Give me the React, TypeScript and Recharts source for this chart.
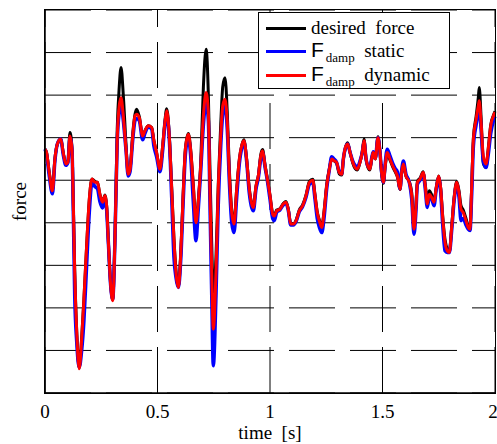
import React from "react";
import { CartesianGrid, Line, LineChart, XAxis, YAxis } from "recharts";

// time axis [s]
const time = [
  0.0, 0.007, 0.019, 0.033, 0.044, 0.055, 0.07, 0.081, 0.093, 0.102, 0.111, 0.12, 0.126, 0.132, 0.141, 0.152,
  0.163, 0.173, 0.185, 0.197, 0.209, 0.222, 0.233, 0.244, 0.256, 0.267, 0.274, 0.281, 0.292, 0.301, 0.311, 0.321,
  0.33, 0.338, 0.348, 0.36, 0.37, 0.378, 0.39, 0.4, 0.407, 0.419, 0.434, 0.444, 0.459, 0.474, 0.484, 0.496,
  0.511, 0.523, 0.533, 0.541, 0.553, 0.563, 0.573, 0.582, 0.593, 0.603, 0.615, 0.624, 0.637, 0.647, 0.659, 0.671,
  0.681, 0.692, 0.704, 0.716, 0.726, 0.733, 0.741, 0.748, 0.76, 0.77, 0.781, 0.79, 0.8, 0.81, 0.819, 0.83,
  0.84, 0.852, 0.864, 0.874, 0.884, 0.896, 0.908, 0.919, 0.926, 0.938, 0.948, 0.959, 0.967, 0.978, 0.988, 1.0,
  1.012, 1.019, 1.03, 1.044, 1.059, 1.071, 1.081, 1.092, 1.104, 1.116, 1.13, 1.145, 1.16, 1.175, 1.19, 1.2,
  1.21, 1.219, 1.23, 1.24, 1.252, 1.264, 1.274, 1.284, 1.296, 1.308, 1.319, 1.326, 1.338, 1.345, 1.356, 1.368,
  1.378, 1.388, 1.4, 1.41, 1.418, 1.427, 1.437, 1.444, 1.452, 1.459, 1.468, 1.48, 1.489, 1.496, 1.504, 1.512,
  1.521, 1.533, 1.545, 1.556, 1.566, 1.578, 1.585, 1.593, 1.604, 1.619, 1.63, 1.64, 1.649, 1.655, 1.667, 1.681,
  1.69, 1.699, 1.708, 1.719, 1.729, 1.738, 1.75, 1.759, 1.767, 1.778, 1.788, 1.797, 1.808, 1.818, 1.83, 1.84,
  1.849, 1.859, 1.871, 1.881, 1.889, 1.896, 1.904, 1.916, 1.926, 1.93, 1.938, 1.948, 1.96, 1.97, 1.981, 1.993,
  2.0,
];

const desiredForce = [
  5.73, 5.65, 5.18, 4.8, 5.5, 5.85, 5.97, 5.65, 5.38, 5.45, 6.12, 5.75, 4.4, 2.9, 1.45, 0.6,
  1.3, 2.2, 3.45, 4.55, 5.03, 4.97, 4.95, 4.67, 4.5, 4.65, 4.4, 3.62, 2.55, 2.2, 3.7, 6.2,
  7.2, 7.65, 7.0, 5.85, 5.14, 5.25, 6.1, 6.55, 6.67, 6.5, 6.05, 6.16, 6.28, 6.24, 5.93, 5.65,
  5.26, 5.81, 6.4, 6.68, 6.0, 4.85, 3.65, 2.9, 2.5, 3.25, 4.8, 5.75, 6.1, 5.75, 4.9, 4.05,
  4.5, 5.4, 7.2, 8.08, 7.0, 5.3, 3.5, 2.37, 3.2, 4.9, 6.3, 7.2, 7.41, 6.6, 5.3, 4.3,
  4.0, 4.8, 5.5, 5.81, 5.95, 5.5, 4.8, 4.45, 4.38, 4.87, 5.1, 5.6, 5.72, 5.36, 5.05, 4.65,
  4.22, 4.18, 4.3, 4.33, 4.45, 4.5, 4.33, 3.99, 3.98, 4.06, 4.3, 4.42, 4.65, 4.97, 5.02, 4.66,
  4.26, 4.07, 3.92, 4.26, 4.9, 5.28, 5.5, 5.46, 5.4, 5.15, 5.12, 5.48, 5.81, 5.88, 5.65, 5.4,
  5.28, 5.24, 5.42, 5.67, 5.97, 5.5, 5.28, 5.24, 5.5, 5.65, 5.5, 6.02, 5.65, 5.15, 4.93, 5.32,
  5.62, 5.48, 5.32, 5.2, 5.08, 4.78, 5.16, 5.36, 5.1, 4.97, 4.7, 3.9, 4.45, 4.97, 5.05, 5.2,
  4.9, 4.55, 4.75, 4.65, 4.5, 4.8, 5.1, 4.8, 4.2, 3.6, 3.38, 3.32, 3.95, 4.58, 4.97, 4.75,
  4.4, 4.3, 4.1, 3.92, 3.87, 4.8, 6.0, 6.5, 6.95, 7.18, 6.5, 5.4, 5.3, 5.75, 6.3, 6.52,
  6.62,
];

const fDampStatic = [
  5.73, 5.6, 5.1, 4.68, 5.45, 5.85, 5.97, 5.6, 5.35, 5.42, 6.0, 5.7, 4.2, 2.3, 1.2, 0.6,
  1.0, 1.7, 3.0, 4.25, 4.95, 4.85, 4.8, 4.5, 4.35, 4.55, 4.3, 3.6, 2.52, 2.2, 3.62, 5.9,
  6.6, 6.8, 6.4, 5.7, 5.1, 5.2, 5.95, 6.4, 6.45, 6.4, 5.95, 6.1, 6.25, 6.2, 5.8, 5.55,
  5.2, 5.7, 6.3, 6.55, 5.9, 4.6, 3.2, 2.72, 2.48, 3.1, 4.6, 5.6, 6.0, 5.6, 4.5, 3.58,
  4.3, 5.2, 6.3, 6.83, 6.4, 4.5, 2.3, 0.64, 2.3, 4.4, 5.8, 6.55, 6.75, 6.2, 5.0, 4.0,
  3.77, 4.6, 5.4, 5.75, 5.9, 5.45, 4.7, 4.35, 4.28, 4.8, 5.05, 5.5, 5.65, 5.3, 5.0, 4.55,
  4.1, 4.05, 4.25, 4.3, 4.42, 4.46, 4.3, 3.95, 3.95, 4.03, 4.26, 4.38, 4.6, 4.9, 4.95, 4.55,
  4.1, 3.9, 3.77, 4.1, 4.8, 5.25, 5.55, 5.5, 5.42, 5.2, 5.15, 5.5, 5.8, 5.85, 5.65, 5.45,
  5.35, 5.3, 5.45, 5.65, 5.9, 5.5, 5.32, 5.3, 5.52, 5.67, 5.52, 6.0, 5.65, 5.2, 4.95, 5.4,
  5.73, 5.58, 5.4, 5.28, 5.2, 4.8, 5.22, 5.45, 5.15, 4.95, 4.55, 3.73, 4.3, 4.9, 5.0, 5.15,
  4.8, 4.36, 4.6, 4.55, 4.4, 4.75, 5.05, 4.7, 4.0, 3.34, 3.3, 3.3, 3.85, 4.5, 4.9, 4.6,
  4.05, 4.1, 3.95, 3.85, 3.82, 4.6, 5.8, 6.3, 6.6, 6.7, 6.2, 5.45, 5.3, 5.6, 6.1, 6.4,
  6.5,
];

const fDampDynamic = [
  5.73, 5.65, 5.18, 4.75, 5.5, 5.85, 5.97, 5.65, 5.38, 5.42, 6.04, 5.73, 4.4, 2.84, 1.43, 0.57,
  1.27, 2.21, 3.46, 4.56, 5.03, 4.95, 4.95, 4.67, 4.48, 4.64, 4.4, 3.62, 2.52, 2.17, 3.62, 5.97,
  6.75, 6.94, 6.51, 5.73, 5.14, 5.25, 6.04, 6.51, 6.55, 6.47, 6.04, 6.16, 6.28, 6.24, 5.93, 5.65,
  5.26, 5.81, 6.36, 6.63, 5.97, 4.79, 3.62, 2.84, 2.48, 3.23, 4.79, 5.73, 6.08, 5.73, 4.87, 4.0,
  4.48, 5.34, 6.51, 7.06, 6.59, 4.79, 2.84, 1.5, 2.84, 4.79, 6.04, 6.75, 6.9, 6.36, 5.18, 4.24,
  3.97, 4.79, 5.5, 5.81, 5.93, 5.5, 4.79, 4.44, 4.36, 4.87, 5.1, 5.57, 5.69, 5.34, 5.03, 4.64,
  4.2, 4.16, 4.28, 4.32, 4.44, 4.48, 4.32, 3.97, 3.97, 4.05, 4.28, 4.4, 4.64, 4.95, 5.0, 4.64,
  4.24, 4.05, 3.89, 4.24, 4.87, 5.26, 5.5, 5.46, 5.42, 5.18, 5.14, 5.5, 5.81, 5.85, 5.65, 5.42,
  5.3, 5.26, 5.42, 5.65, 5.93, 5.5, 5.3, 5.26, 5.5, 5.65, 5.5, 6.0, 5.65, 5.18, 4.95, 5.34,
  5.65, 5.5, 5.34, 5.22, 5.1, 4.79, 5.18, 5.38, 5.1, 4.95, 4.64, 3.85, 4.4, 4.95, 5.03, 5.18,
  4.87, 4.44, 4.67, 4.59, 4.48, 4.79, 5.1, 4.79, 4.16, 3.54, 3.34, 3.3, 3.93, 4.56, 4.95, 4.71,
  4.32, 4.24, 4.05, 3.89, 3.85, 4.79, 5.97, 6.43, 6.75, 6.87, 6.36, 5.57, 5.38, 5.73, 6.28, 6.51,
  6.6,
];

const xTicks = [0, 0.5, 1, 1.5, 2];
const yTicks = [0, 1, 2, 3, 4, 5, 6, 7, 8, 9];

const rows = time.map((t, i) => ({
  t,
  desired: desiredForce[i],
  fStatic: fDampStatic[i],
  fDynamic: fDampDynamic[i],
}));

const serif = "Liberation Serif";
const sans = "Liberation Sans";
const frame = { stroke: "#000", strokeWidth: 1.5 };

// plot box, same as chart margins below
const box = { left: 45, top: 10, width: 450, height: 383 };

function LegendRow({ color, top, children }: { color: string; top: number; children: React.ReactNode }) {
  return (
    <div style={{ position: "absolute", left: 0, top, height: 24, width: "100%", display: "flex", alignItems: "center" }}>
      <div style={{ marginLeft: 7, width: 40, height: 3, background: color }} />
      <div style={{ marginLeft: 5, fontFamily: serif, fontSize: 19, whiteSpace: "pre", lineHeight: "24px" }}>{children}</div>
    </div>
  );
}

function Fdamp({ rest }: { rest: string }) {
  return (
    <span>
      <span style={{ fontFamily: sans, fontSize: 21 }}>F</span>
      <span style={{ fontFamily: serif, fontSize: 13, position: "relative", top: 5, marginLeft: 2 }}>damp</span>
      <span>{"  " + rest}</span>
    </span>
  );
}

function ForceLegend() {
  return (
    <div
      style={{
        position: "absolute",
        left: 258,
        top: 12,
        width: 192,
        height: 77,
        border: "1px solid #000",
        background: "#fff",
        boxSizing: "border-box",
      }}
    >
      <LegendRow color="#000" top={3}>desired  force</LegendRow>
      <LegendRow color="#0000ff" top={26}><Fdamp rest="static" /></LegendRow>
      <LegendRow color="#ff0000" top={50}><Fdamp rest="dynamic" /></LegendRow>
    </div>
  );
}

const dashedLine = (p: any) => (
  <line
    key={p.key}
    x1={p.x1}
    y1={p.y1}
    x2={p.x2}
    y2={p.y2}
    stroke="#000"
    strokeWidth={1}
    strokeDasharray="46 15"
    strokeDashoffset={29}
    fill="none"
  />
);

const TimeTick = (p: any) => (
  <text x={p.x} y={p.y} dy="0.71em" textAnchor="middle" fill="#000" fontSize={19} fontFamily={serif}>
    {p.payload.value}
  </text>
);

const TimeLabel = ({ viewBox }: any) => (
  <text
    x={viewBox.x + viewBox.width / 2}
    y={viewBox.y + viewBox.height + 16}
    textAnchor="middle"
    fill="#000"
    fontSize={19}
    fontFamily={serif}
    style={{ whiteSpace: "pre" }}
  >
    time  [s]
  </text>
);

const ForceLabel = ({ viewBox }: any) => {
  const cx = viewBox.x + 19;
  const cy = viewBox.y + viewBox.height / 2;
  return (
    <text
      x={cx}
      y={cy}
      dy="0.35em"
      transform={`rotate(-90, ${cx}, ${cy})`}
      textAnchor="middle"
      fill="#000"
      fontSize={19}
      fontFamily={serif}
    >
      force
    </text>
  );
};

export default function App() {
  return (
    <div style={{ position: "absolute", left: 0, top: 0, width: 497, height: 444, background: "#fff", fontFamily: serif }}>
      <LineChart
        width={497}
        height={444}
        data={rows}
        margin={{ top: box.top, right: 497 - box.left - box.width, left: 0, bottom: 21 }}
      >
        <CartesianGrid stroke="#000" strokeWidth={1} strokeDasharray="46 15" vertical={dashedLine} />
        <XAxis
          dataKey="t"
          type="number"
          domain={[0, 2]}
          ticks={xTicks}
          tickLine={false}
          tickMargin={6}
          axisLine={frame}
          tick={TimeTick}
          label={{ content: TimeLabel }}
        />
        <YAxis
          type="number"
          domain={[0, 9]}
          ticks={yTicks}
          width={box.left}
          tick={() => <g />}
          tickLine={false}
          axisLine={frame}
          label={{ content: ForceLabel }}
        />
        <Line type="monotone" dataKey="desired" stroke="#000000" strokeWidth={3} dot={false} isAnimationActive={false} />
        <Line type="monotone" dataKey="fStatic" stroke="#0000ff" strokeWidth={3.5} dot={false} isAnimationActive={false} />
        <Line type="monotone" dataKey="fDynamic" stroke="#ff0000" strokeWidth={3} dot={false} isAnimationActive={false} />
      </LineChart>
      {/* box outline (top and right edges) */}
      <div
        style={{
          position: "absolute",
          left: box.left - 0.75,
          top: box.top - 0.75,
          width: box.width + 1.5,
          height: box.height + 1.5,
          border: "1.5px solid #000",
          boxSizing: "border-box",
          pointerEvents: "none",
        }}
      />
      <ForceLegend />
    </div>
  );
}
